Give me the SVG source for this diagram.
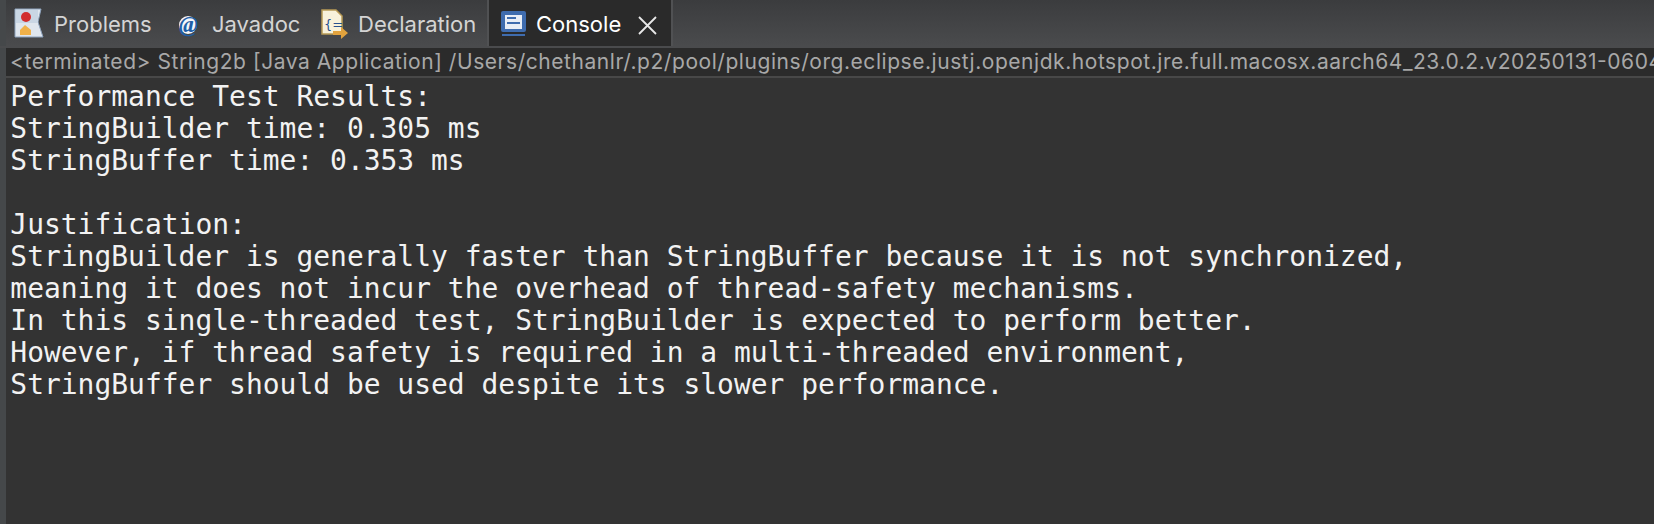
<svg xmlns="http://www.w3.org/2000/svg" width="1654" height="524" viewBox="0 0 1654 524">
<style>
.tab{font:22px "Inter","Liberation Sans",sans-serif;fill:#d4d4d4}
.status{font:21px "Inter","Liberation Sans",sans-serif;fill:#a8a8a8}
.c{font:27.96px "DejaVu Sans Mono",monospace;fill:#f2f2f2;white-space:pre}
</style>
<defs>
<linearGradient id="bar" x1="0" y1="0" x2="0" y2="1"><stop offset="0" stop-color="#3b3c3e"/><stop offset="1" stop-color="#4a4b4d"/></linearGradient>
</defs>
<rect width="1654" height="524" fill="#333333"/>
<rect width="1654" height="46" fill="url(#bar)"/>
<rect x="0" y="0" width="6" height="524" fill="#45484a"/>
<g id="tabs">
<rect x="488" y="0" width="184" height="47" fill="#2a2a2a"/>
<rect x="487" y="0" width="2" height="47" fill="#505153"/>
<rect x="671" y="0" width="2" height="47" fill="#505153"/>
<g id="icon-problems">
<path d="M15 9H41L38 22L43 37H15Z" fill="#dfe6ee" stroke="#8ea3bd"/>
<rect x="16" y="10" width="22" height="13" fill="#c9d6e4"/>
<circle cx="26" cy="17" r="5" fill="#d22d2d"/>
<path d="M20 35V30L25 25L31 30V35Z" fill="#f0b14a"/>
</g>
<text class="tab" x="54" y="32">Problems</text>
<g id="icon-javadoc">
<circle cx="188" cy="25" r="9" fill="#f4f6fa"/>
<text x="179" y="32" font-family="'Liberation Serif',serif" font-size="23" font-style="italic" font-weight="700" fill="#1f5fa8">@</text>
</g>
<text class="tab" x="212" y="32">Javadoc</text>
<g id="icon-declaration">
<path d="M322 10H336L342 16V34H322Z" fill="#f7f1da" stroke="#b89a55" stroke-width="1.5"/>
<text x="324" y="29" font-family="'DejaVu Sans',sans-serif" font-size="13" fill="#27518f">{=</text>
<path d="M333 31H341V27L348 33L341 39V35H333Z" fill="#e2a33e"/>
</g>
<text class="tab" x="358" y="32">Declaration</text>
<g id="icon-console">
<rect x="501" y="11" width="25" height="21" rx="2" fill="#3f6cae"/>
<rect x="505" y="15" width="17" height="14" fill="#e9eef6"/>
<rect x="507" y="17" width="9" height="2" fill="#3f6cae"/><rect x="507" y="22" width="13" height="2" fill="#3f6cae"/>
<rect x="502" y="34" width="23" height="2" fill="#3f6cae"/>
</g>
<text class="tab" x="536" y="32" style="fill:#fff">Console</text>
<path id="close" d="M639 17L656 34M656 17L639 34" stroke="#e8e8e8" stroke-width="1.8"/>
</g>
<g id="status">
<rect x="6" y="47" width="1648" height="29" fill="#2b2b2b"/>
<rect x="0" y="46" width="1654" height="2" fill="#4a4b4d"/>
<rect x="6" y="76" width="1648" height="2" fill="#484848"/>
<text class="status" x="10" y="69" textLength="1652">&lt;terminated&gt; String2b [Java Application] /Users/chethanlr/.p2/pool/plugins/org.eclipse.justj.openjdk.hotspot.jre.full.macosx.aarch64_23.0.2.v20250131-0604</text>
</g>
<g id="console">
<text class="c" x="10.3" y="106">Performance Test Results:</text>
<text class="c" x="10.3" y="138">StringBuilder time: 0.305 ms</text>
<text class="c" x="10.3" y="170">StringBuffer time: 0.353 ms</text>
<text class="c" x="10.3" y="234">Justification:</text>
<text class="c" x="10.3" y="266">StringBuilder is generally faster than StringBuffer because it is not synchronized,</text>
<text class="c" x="10.3" y="298">meaning it does not incur the overhead of thread-safety mechanisms.</text>
<text class="c" x="10.3" y="330">In this single-threaded test, StringBuilder is expected to perform better.</text>
<text class="c" x="10.3" y="362">However, if thread safety is required in a multi-threaded environment,</text>
<text class="c" x="10.3" y="394">StringBuffer should be used despite its slower performance.</text>
</g>
</svg>
